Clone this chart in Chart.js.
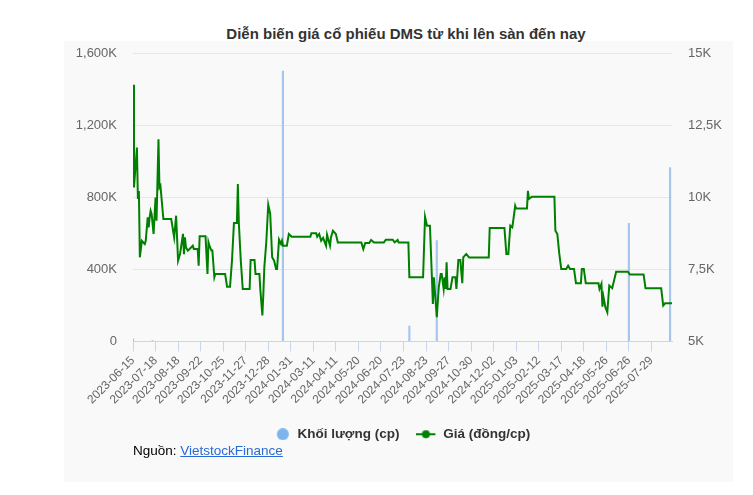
<!DOCTYPE html>
<html>
<head>
<meta charset="utf-8">
<script src="https://cdn.jsdelivr.net/npm/chart.js@4.4.1/dist/chart.umd.min.js"></script>
<style>
  body{ margin:0; background:#fff; font-family:"Liberation Sans", Arial, sans-serif; }
  .wrap{ position:relative; width:753px; height:495px; }
  .panel{ position:absolute; left:64px; top:41px; width:669px; height:441px; background:#f9f9f9; }
  .title{ position:absolute; left:156px; top:25px; width:500px; text-align:center; font-size:15px; font-weight:bold; color:#333; white-space:nowrap; }
  .source{ position:absolute; left:133px; top:443px; font-size:13.5px; color:#000; }
  .source a{ color:#2a6ad6; text-decoration:underline; }
  canvas{ position:absolute; left:0; top:0; }
</style>
</head>
<body>
<div class="wrap">
  <div class="panel"></div>
  <div class="title">Diễn biến giá cổ phiếu DMS từ khi lên sàn đến nay</div>
  <canvas id="chart-dms" width="753" height="495"></canvas>
  <div class="source">Nguồn: <a href="#">VietstockFinance</a></div>
</div>
<script>
(function(){

  // one tick label every 23 trading days
  const tickLabels = ['2023-06-15','2023-07-18','2023-08-18','2023-09-22','2023-10-25','2023-11-27','2023-12-28',
    '2024-01-31','2024-03-11','2024-04-11','2024-05-20','2024-06-20','2024-07-23','2024-08-23','2024-09-27',
    '2024-10-30','2024-12-02','2025-01-03','2025-02-12','2025-03-17','2025-04-18','2025-05-26','2025-06-26','2025-07-29'];
  const tickStep = 23;
  const lastDay = 550;

  // volume (cp), day index -> value
  const volumeDay = [0, 20, 153, 282, 310, 506, 548];
  const volumeCp  = [15000, 5000, 1500000, 85000, 560000, 655000, 965000];

  // price (dong/cp), day index -> value
  const priceDay = [0,1,4,5,6,7,9,12,13,15,16,17,18,19,21,23,24,26,27,28,31,39,42,44,46,48,51,52,53,54,56,61,62,66,67,68,74,76,77,78,80,81,83,84,94,96,99,
    101,103,106,107,108,110,112,119,120,124,125,129,130,132,133,134,136,138,140,142,144,146,147,149,151,152,153,157,159,162,181,182,187,188,190,192,194,197,198,
    201,202,204,207,209,233,235,237,241,243,246,256,258,265,267,270,271,281,282,296,298,
    300,303,305,306,307,310,312,314,315,317,318,319,320,321,324,326,329,330,332,334,336,337,340,343,363,364,379,381,383,385,387,388,390,391,
    402,403,404,407,430,431,433,435,437,442,444,446,450,452,457,458,460,462,475,476,478,479,480,482,484,486,489,493,
    505,507,521,523,539,541,543,550];
  const priceVnd = [13900,10340,11720,9940,10220,7920,8490,8380,8490,9300,8955,9300,9530,9420,8730,9990,9190,12010,10340,10400,9245,9245,8610,9360,7800,8030,8730,8030,8610,8270,8150,8320,8210,8210,7630,8645,8645,7340,8440,8320,8150,8150,7225,7340,7340,6900,6900,
    7800,9105,9105,10455,9105,7800,6820,6820,7825,7825,7340,7340,6765,5900,6650,7570,8440,9740,9430,7920,7800,7515,7515,8530,8380,8490,8320,8320,8725,8630,8630,8750,8750,8630,8725,8495,8590,8320,8700,
    8320,8610,8840,8725,8435,8435,8205,8415,8415,8520,8435,8435,8530,8530,8435,8520,8435,8435,7225,7225,9325,
    9015,9015,7225,6305,7225,5840,6880,7340,7340,6820,7225,6820,7745,6820,6820,7225,7225,6820,7825,7825,7020,7915,8035,7915,7915,8935,8935,8035,8035,9015,8955,9190,9705,9610,
    9610,10225,9940,10015,10015,8840,8725,8035,7515,7515,7630,7515,7515,7020,7020,7515,7515,7020,7020,6820,7000,6210,6555,6190,6015,6940,6850,7420,
    7420,7320,7320,6845,6845,6245,6325,6325];

  const volumeColor = '#7cb5ec';
  const priceColor = '#008000';
  const fontFamily = '"Liberation Sans", Arial, sans-serif';

  // legend markers: round dot for volume, line with dot for price
  function legendIcon(kind){
    const c = document.createElement('canvas');
    const g = c.getContext('2d');
    if(kind === 'dot'){
      c.width = 16; c.height = 12;
      g.fillStyle = volumeColor;
      g.beginPath(); g.arc(8, 6, 6, 0, Math.PI*2); g.fill();
    } else {
      c.width = 24; c.height = 12;
      g.strokeStyle = priceColor; g.lineWidth = 2;
      g.beginPath(); g.moveTo(0, 6); g.lineTo(19, 6); g.stroke();
      g.fillStyle = priceColor;
      g.beginPath(); g.arc(9.5, 6, 4, 0, Math.PI*2); g.fill();
    }
    return c;
  }

  const ctx = document.getElementById('chart-dms');
  new Chart(ctx, {
    data:{
      datasets:[{
        type:'bar',
        label:'Khối lượng (cp)',
        data:volumeDay.map((d, i) => ({ x:d, y:volumeCp[i] })),
        backgroundColor:'#a4c6ed',
        barThickness:1.5,
        yAxisID:'y',
        order:2
      },{
        type:'line',
        label:'Giá (đồng/cp)',
        data:priceDay.map((d, i) => ({ x:d, y:priceVnd[i] })),
        borderColor:priceColor,
        backgroundColor:priceColor,
        borderWidth:2,
        pointRadius:0,
        tension:0,
        yAxisID:'y1',
        order:1
      }]
    },
    options:{
      responsive:false, animation:false,
      layout:{ padding:{ top:53, bottom:44, left:0, right:0 } },
      plugins:{
        tooltip:{ enabled:false },
        legend:{
          position:'bottom', fullSize:false,
          labels:{
            usePointStyle:true, pointStyleWidth:16, padding:21,
            font:{ size:13.5, weight:'bold', family:fontFamily }, color:'#333',
            generateLabels:() => [
              { text:'Khối lượng (cp)', pointStyle:legendIcon('dot'), datasetIndex:0, fontColor:'#333', lineWidth:0, strokeStyle:'transparent', fillStyle:'transparent' },
              { text:'Giá (đồng/cp)', pointStyle:legendIcon('line'), datasetIndex:1, fontColor:'#333', lineWidth:0, strokeStyle:'transparent', fillStyle:'transparent' }
            ]
          }
        }
      },
      scales:{
        x:{
          type:'linear', min:0, max:lastDay, offset:false,
          afterBuildTicks:axis => { axis.ticks = tickLabels.map((_, i) => ({ value:i*tickStep })); },
          afterFit:axis => { axis.height = 65; },
          grid:{ drawOnChartArea:false, drawTicks:true, tickLength:10, color:'#ccd6eb', offset:false },
          border:{ display:true, color:'#ccd6eb' },
          ticks:{
            autoSkip:false, maxRotation:45, minRotation:45, padding:2,
            font:{ size:12, family:fontFamily }, color:'#666',
            callback:v => tickLabels[Math.round(v/tickStep)]
          }
        },
        y:{
          position:'left', min:0, max:1600000,
          afterFit:axis => { axis.width = 133; },
          grid:{ color:'#e6e6e6', drawTicks:false },
          border:{ display:false },
          ticks:{
            stepSize:400000, padding:16,
            font:{ size:13, family:fontFamily }, color:'#666',
            callback:v => v === 0 ? '0' : (v/1000).toLocaleString('en-US') + 'K'
          }
        },
        y1:{
          position:'right', min:5000, max:15000,
          afterFit:axis => { axis.width = 81; },
          grid:{ drawOnChartArea:false, drawTicks:false },
          border:{ display:false },
          ticks:{
            stepSize:2500, padding:16,
            font:{ size:13, family:fontFamily }, color:'#666',
            callback:v => String(v/1000).replace('.', ',') + 'K'
          }
        }
      }
    }
  });

})();
</script>
</body>
</html>
